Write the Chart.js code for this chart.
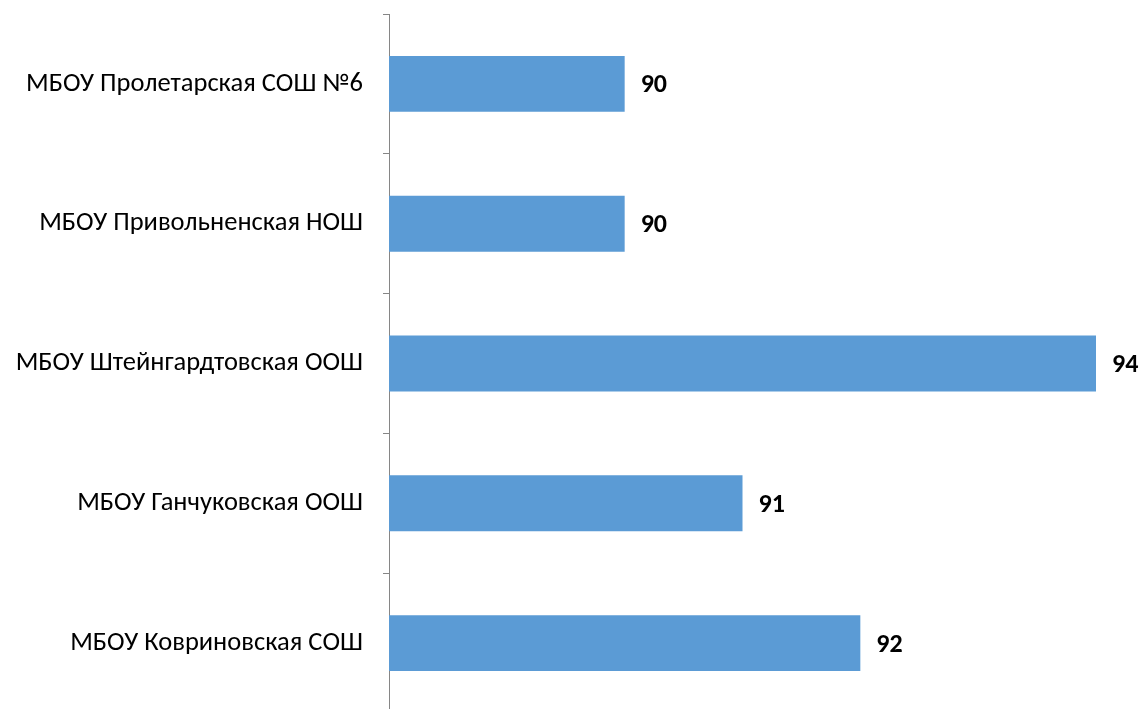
<!DOCTYPE html>
<html>
<head>
<meta charset="utf-8">
<script src="https://cdn.jsdelivr.net/npm/chart.js@4/dist/chart.umd.min.js"></script>
<style>
html,body{margin:0;padding:0;background:#fff;overflow:hidden;}
#wrap{width:1145px;height:716px;position:relative;}
</style>
</head>
<body>
<div id="wrap"><canvas id="c" width="1145" height="716"></canvas></div>
<script>
const categories = [
  "МБОУ Пролетарская СОШ №6",
  "МБОУ Привольненская НОШ",
  "МБОУ Штейнгардтовская ООШ",
  "МБОУ Ганчуковская ООШ",
  "МБОУ Ковриновская СОШ"
];
const values = [90, 90, 94, 91, 92];
const axisMin = 88;
const axisMax = 94;

const FONT = "Carlito, 'Open Sans', 'Noto Sans', sans-serif";

const labelPlugin = {
  id: 'valueLabels',
  afterDatasetsDraw(chart) {
    const ctx = chart.ctx;
    const meta = chart.getDatasetMeta(0);
    ctx.save();
    ctx.font = "bold 26px " + FONT;
    ctx.fillStyle = "#000";
    ctx.textAlign = "left";
    ctx.textBaseline = "middle";
    meta.data.forEach((bar, i) => {
      ctx.fillText(String(values[i]), bar.x + 16, bar.y + 2);
    });
    ctx.restore();
  }
};

new Chart(document.getElementById('c'), {
  type: 'bar',
  data: {
    labels: categories,
    datasets: [{
      data: values,
      backgroundColor: '#5B9BD5',
      borderWidth: 0,
      barPercentage: 0.4,
      categoryPercentage: 1.0
    }]
  },
  options: {
    indexAxis: 'y',
    responsive: false,
    animation: false,
    layout: { padding: { top: 14, right: 49, bottom: 3, left: 0 } },
    plugins: { legend: { display: false }, tooltip: { enabled: false } },
    scales: {
      x: {
        display: false,
        min: axisMin,
        max: axisMax
      },
      y: {
        afterFit(scale) { scale.width = 389; scale.paddingTop = 0; scale.paddingBottom = 0; },
        border: { display: true, color: '#868686', width: 1 },
        grid: { display: true, drawOnChartArea: false, drawTicks: true, tickLength: 6, color: '#868686', offset: true },
        ticks: { color: '#000', padding: 20, font: { family: FONT, size: 26.5 } }
      }
    }
  },
  plugins: [labelPlugin]
});
</script>
</body>
</html>
